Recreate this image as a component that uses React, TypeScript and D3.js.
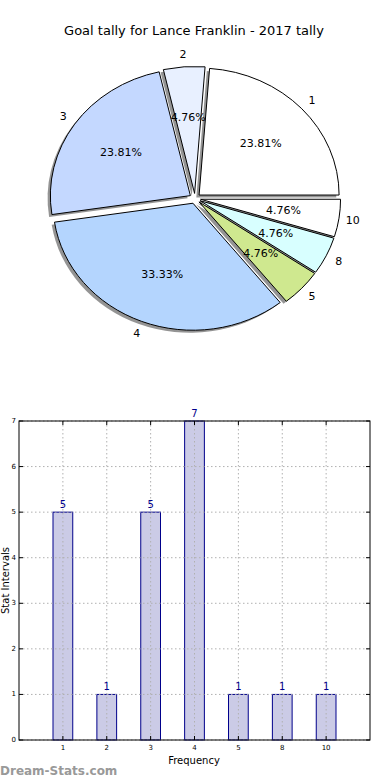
import React from "react";
import * as d3 from "d3";

const categories = ["1", "2", "3", "4", "5", "8", "10"];
const goals = [5, 1, 5, 7, 1, 1, 1];
const sliceColors = ["#ffffff", "#e8f0ff", "#c4d8ff", "#b4d5fe", "#cfe88f", "#d8ffff", "#ffffff"];
const yTicks = [0, 1, 2, 3, 4, 5, 6, 7];
const title = "Goal tally for Lance Franklin - 2017 tally";

const W = 390;
const H = 780;
const FONT = "DejaVu Sans, sans-serif";

export default function App() {
  // Pie (ellipse, matplotlib style: ccw from 3 o'clock)
  const cx = 195, cy = 198.5, rx = 140, ry = 127;
  const explode = 0.04;
  const pie = d3.pie<number>().sort(null).startAngle(0).endAngle(2 * Math.PI)(goals);
  const total = d3.sum(goals);
  const arcGen = d3.arc<any>().innerRadius(0).outerRadius(1);

  const wedges = pie.map((p, i) => {
    const t1 = p.startAngle, t2 = p.endAngle; // ccw angle from +x
    const mid = (t1 + t2) / 2;
    const ox = cx + explode * rx * Math.cos(mid);
    const oy = cy - explode * ry * Math.sin(mid);
    const path = arcGen({ startAngle: Math.PI / 2 - t2, endAngle: Math.PI / 2 - t1 }) as string;
    return {
      i, mid, ox, oy, path,
      lx: ox + 1.1 * rx * Math.cos(mid),
      ly: oy - 1.1 * ry * Math.sin(mid),
      px: ox + 0.6 * rx * Math.cos(mid),
      py: oy - 0.6 * ry * Math.sin(mid),
      pct: ((p.data / total) * 100).toFixed(2) + "%",
    };
  });

  // Bar chart
  const left = 19, right = 370, top = 421, bottom = 740;
  const x = d3.scaleLinear().domain([-1, 7]).range([left, right]);
  const y = d3.scaleLinear().domain([0, 7]).range([bottom, top]);
  const barW = 0.45;

  return (
    <svg width={W} height={H} style={{ position: "absolute", left: 0, top: 0, background: "#fff" }} fontFamily={FONT}>
      <rect x={0} y={0} width={W} height={H} fill="#fff" />
      <text x={194} y={35} fontSize={13} textAnchor="middle" fill="#000">{title}</text>

      {/* shadows */}
      {wedges.map((w) => (
        <path key={"s" + w.i} d={w.path}
          transform={`translate(${w.ox - 0.02 * rx},${w.oy + 0.02 * ry}) scale(${rx},${ry})`}
          fill="#000" fillOpacity={0.42} stroke="none" />
      ))}
      {wedges.map((w) => (
        <path key={"w" + w.i} d={w.path}
          transform={`translate(${w.ox},${w.oy}) scale(${rx},${ry})`}
          fill={sliceColors[w.i]} stroke="#000" strokeWidth={1}
          style={{ vectorEffect: "non-scaling-stroke" } as any} />
      ))}
      {wedges.map((w) => (
        <text key={"l" + w.i} x={w.lx} y={w.ly} fontSize={11} textAnchor="middle" dominantBaseline="central" fill="#000">{categories[w.i]}</text>
      ))}
      {wedges.map((w) => (
        <text key={"p" + w.i} x={w.px} y={w.py} fontSize={11} textAnchor="middle" dominantBaseline="central" fill="#000">{w.pct}</text>
      ))}

      {/* bars */}
      {goals.map((g, i) => (
        <rect key={"b" + i} x={x(i - barW / 2)} y={y(g)} width={x(barW) - x(0)} height={y(0) - y(g)}
          fill="#cbcbe6" stroke="#00008b" strokeWidth={1} />
      ))}
      {/* grid */}
      {yTicks.map((t) => (
        <line key={"gy" + t} x1={left} x2={right} y1={y(t)} y2={y(t)} stroke="#b0b0b0" strokeWidth={1} strokeDasharray="1.5,2.5" />
      ))}
      {categories.map((c, i) => (
        <line key={"gx" + i} x1={x(i)} x2={x(i)} y1={top} y2={bottom} stroke="#b0b0b0" strokeWidth={1} strokeDasharray="1.5,2.5" />
      ))}
      {/* ticks inside */}
      {yTicks.map((t) => (
        <g key={"ty" + t}>
          <line x1={left} x2={left + 4} y1={y(t)} y2={y(t)} stroke="#000" />
          <line x1={right - 4} x2={right} y1={y(t)} y2={y(t)} stroke="#000" />
          <text x={left - 3} y={y(t)} fontSize={7} textAnchor="end" dominantBaseline="central" fill="#000">{t}</text>
        </g>
      ))}
      {categories.map((c, i) => (
        <g key={"tx" + i}>
          <line x1={x(i)} x2={x(i)} y1={bottom} y2={bottom - 4} stroke="#000" />
          <line x1={x(i)} x2={x(i)} y1={top} y2={top + 4} stroke="#000" />
          <text x={x(i)} y={bottom + 10} fontSize={7} textAnchor="middle" fill="#000">{c}</text>
        </g>
      ))}
      <rect x={left} y={top} width={right - left} height={bottom - top} fill="none" stroke="#000" strokeWidth={1} />
      {/* value labels */}
      {goals.map((g, i) => (
        <text key={"v" + i} x={x(i)} y={y(g) - 4} fontSize={10} textAnchor="middle" fill="#00008b">{g}</text>
      ))}
      <text x={194} y={764} fontSize={10} textAnchor="middle" fill="#000">Frequency</text>
      <text transform={`translate(9,${(top + bottom) / 2}) rotate(-90)`} fontSize={10} textAnchor="middle" fill="#000">Stat Intervals</text>
      <text x={0} y={775} fontSize={12} fontWeight={600} fill="#999">Dream-Stats.com</text>
    </svg>
  );
}
